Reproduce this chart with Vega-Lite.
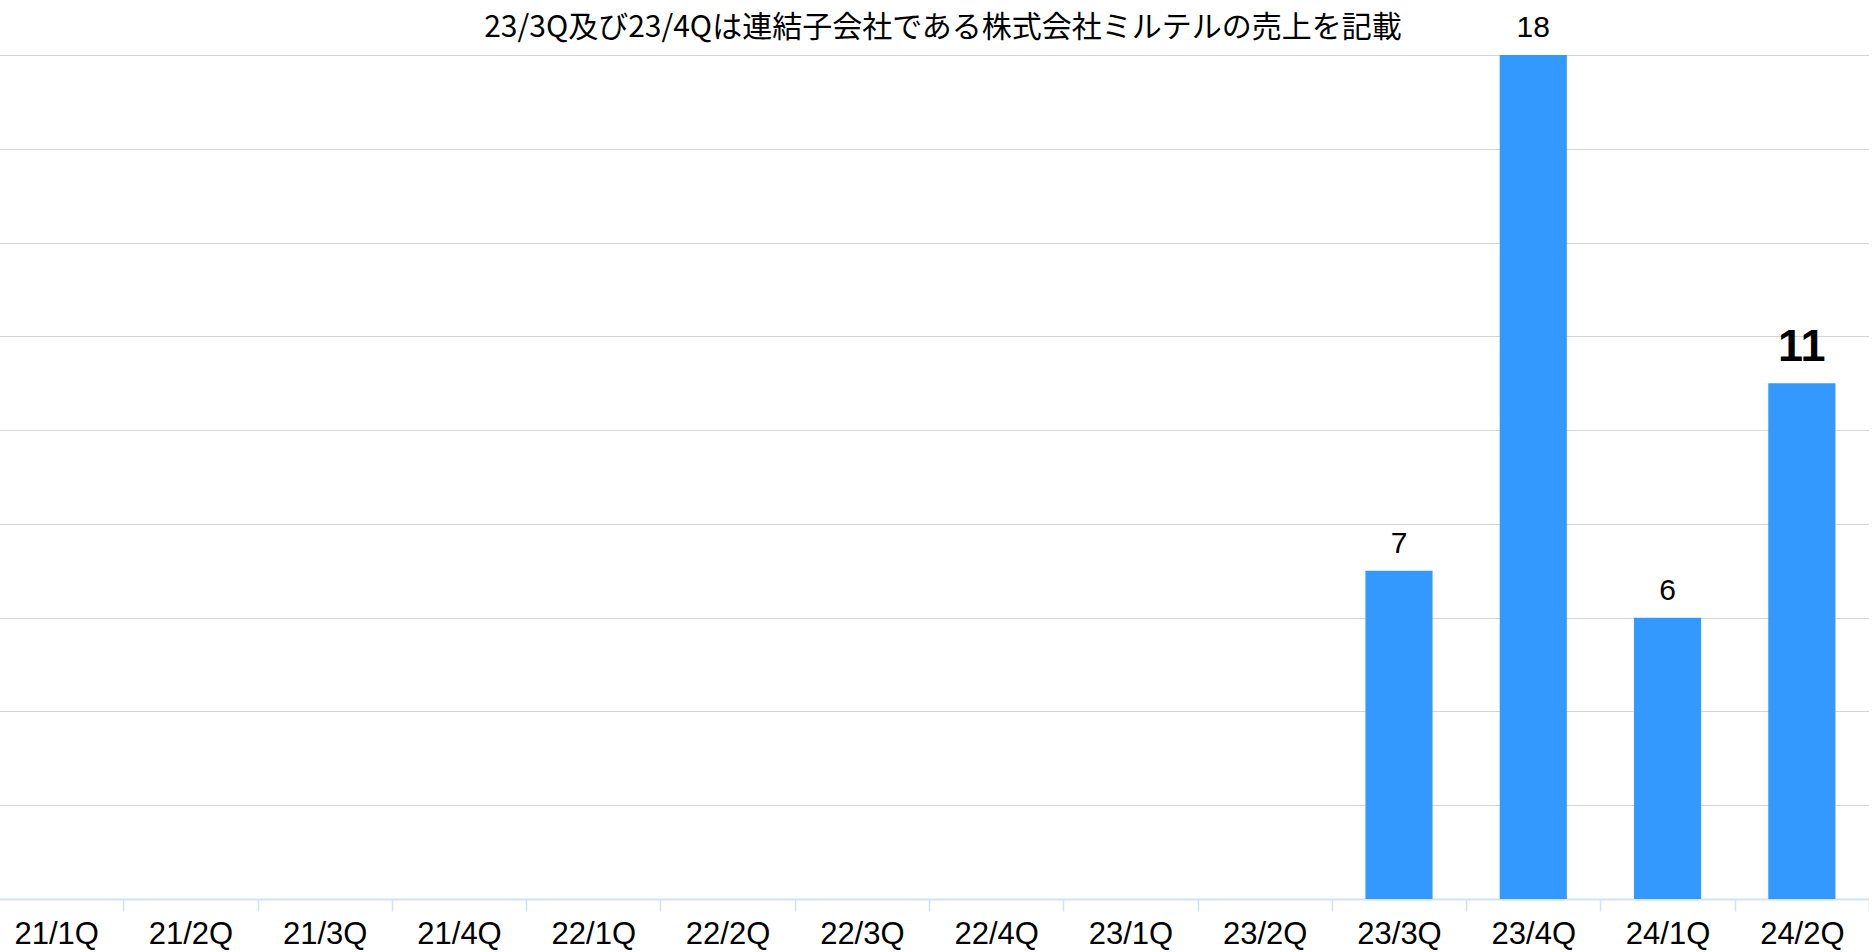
{
  "$schema": "https://vega.github.io/schema/vega-lite/v6.json",
  "width": 1880,
  "height": 844,
  "autosize": {"type": "none"},
  "padding": {"left": -11, "top": 55, "right": 0, "bottom": 53},
  "background": "white",
  "title": {
    "text": "23/3Q及び23/4Qは連結子会社である株式会社ミルテルの売上を記載",
    "font": "Noto Sans CJK JP",
    "fontSize": 30,
    "fontWeight": "normal",
    "color": "#000000",
    "anchor": "middle",
    "offset": -30,
    "dx": 14
  },
  "config": {"view": {"stroke": null}},
  "data": {
    "values": [
      {"q": "21/1Q", "v": null},
      {"q": "21/2Q", "v": null},
      {"q": "21/3Q", "v": null},
      {"q": "21/4Q", "v": null},
      {"q": "22/1Q", "v": null},
      {"q": "22/2Q", "v": null},
      {"q": "22/3Q", "v": null},
      {"q": "22/4Q", "v": null},
      {"q": "23/1Q", "v": null},
      {"q": "23/2Q", "v": null},
      {"q": "23/3Q", "v": 7},
      {"q": "23/4Q", "v": 18},
      {"q": "24/1Q", "v": 6},
      {"q": "24/2Q", "v": 11}
    ]
  },
  "encoding": {
    "x": {
      "field": "q",
      "type": "nominal",
      "sort": null,
      "scale": {
        "domain": ["21/1Q","21/2Q","21/3Q","21/4Q","22/1Q","22/2Q","22/3Q","22/4Q","23/1Q","23/2Q","23/3Q","23/4Q","24/1Q","24/2Q"],
        "paddingInner": 0,
        "paddingOuter": 0
      },
      "axis": {
        "title": null,
        "grid": false,
        "domainColor": "#cfe3f7",
        "domainWidth": 2,
        "tickColor": "#cfe3f7",
        "tickWidth": 1.5,
        "tickSize": 12,
        "tickBand": "extent",
        "labelFont": "Liberation Sans",
        "labelFontSize": 31,
        "labelColor": "#000000",
        "labelPadding": 8,
        "labelAngle": 0
      }
    }
  },
  "layer": [
    {
      "mark": {"type": "bar", "color": "#3399FF", "width": {"band": 0.5}},
      "encoding": {
        "y": {
          "field": "v",
          "type": "quantitative",
          "scale": {"domain": [0, 18], "nice": false},
          "axis": {
            "title": null,
            "labels": false,
            "ticks": false,
            "domain": false,
            "grid": true,
            "gridColor": "#aaaaaa",
            "gridDash": [1, 1],
            "gridWidth": 1,
            "values": [2, 4, 6, 8, 10, 12, 14, 16, 18]
          }
        }
      }
    },
    {
      "transform": [{"filter": "datum.v != null && datum.q != '24/2Q'"}],
      "mark": {"type": "text", "font": "Liberation Sans", "fontSize": 30, "baseline": "alphabetic", "dy": -18, "color": "#000000"},
      "encoding": {
        "y": {"field": "v", "type": "quantitative"},
        "text": {"field": "v", "type": "quantitative"}
      }
    },
    {
      "transform": [{"filter": "datum.q == '24/2Q'"}],
      "mark": {"type": "text", "font": "Liberation Sans", "fontSize": 45, "fontWeight": "bold", "baseline": "alphabetic", "dy": -22, "color": "#000000"},
      "encoding": {
        "y": {"field": "v", "type": "quantitative"},
        "text": {"field": "v", "type": "quantitative"}
      }
    }
  ]
}
